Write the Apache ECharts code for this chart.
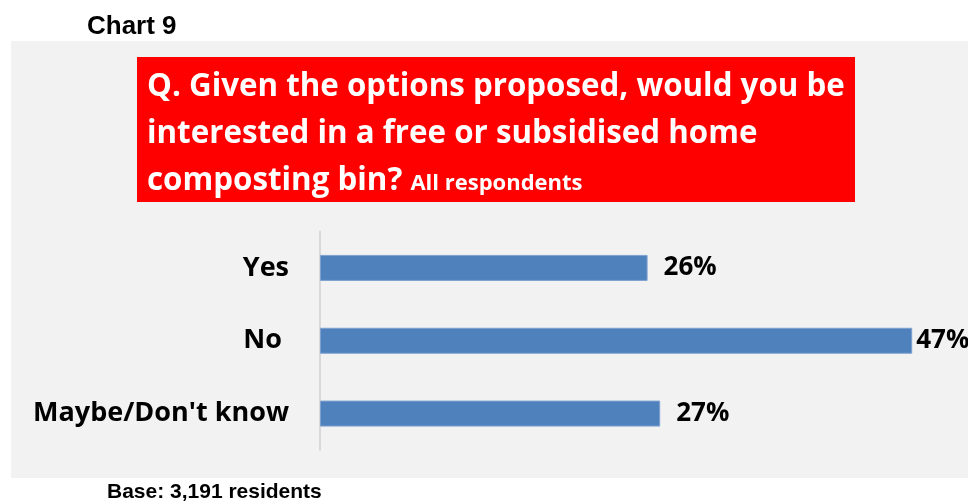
<!DOCTYPE html>
<html>
<head>
<meta charset="utf-8">
<script src="https://cdn.jsdelivr.net/npm/echarts@6/dist/echarts.min.js"></script>
<style>
  html, body { margin: 0; padding: 0; background: #ffffff; }
  #chart { width: 968px; height: 502px; }
</style>
</head>
<body>
<div id="chart"></div>
<script>
// Survey answers and their shares (%)
const categories = ['Yes', 'No ', "Maybe/Don't know"];
const shares = [26, 47, 27];
// Gap between each bar end and its value label
const labelGaps = [16, 4, 16];

const FONT = '"Open Sans", "Noto Sans", sans-serif';
const ARIAL = '"Liberation Sans", Arial, sans-serif';

const chart = echarts.init(document.getElementById('chart'), null, { renderer: 'canvas' });

const titleLine = (text, y) => ({
  type: 'text', z: 2, x: 147, y: y,
  style: { text: text, font: 'bold 31.3px ' + FONT, fill: '#ffffff', verticalAlign: 'middle' }
});

chart.setOption({
  backgroundColor: '#ffffff',
  animation: false,
  graphic: [
    { type: 'rect', z: 0, shape: { x: 11, y: 41, width: 957, height: 437 }, style: { fill: '#f2f2f2' } },
    { type: 'text', z: 1, x: 87, y: 27, style: { text: 'Chart 9', font: 'bold 26px ' + ARIAL, fill: '#000', verticalAlign: 'middle' } },
    { type: 'rect', z: 1, shape: { x: 137, y: 57, width: 718, height: 145 }, style: { fill: '#ff0000' } },
    titleLine('Q. Given the options proposed, would you be', 87),
    titleLine('interested in a free or subsidised home', 134),
    {
      type: 'text', z: 2, x: 147, y: 181,
      style: {
        text: '{q|composting bin? }{s|All respondents}',
        verticalAlign: 'middle',
        rich: {
          q: { font: 'bold 31.3px ' + FONT, fill: '#ffffff', height: 42, lineHeight: 42 },
          s: { font: 'bold 22px ' + FONT, fill: '#ffffff', height: 42, lineHeight: 42, padding: [6, 0, 0, 0] }
        }
      }
    },
    { type: 'text', z: 1, x: 107, y: 492, style: { text: 'Base: 3,191 residents', font: 'bold 21px ' + ARIAL, fill: '#000', verticalAlign: 'middle' } }
  ],
  grid: { left: 320, top: 231.5, width: 630, height: 218.5, containLabel: false },
  xAxis: { type: 'value', min: 0, max: 50, show: false },
  yAxis: {
    type: 'category',
    data: categories,
    inverse: true,
    axisLine: { show: true, lineStyle: { color: '#d9d9d9', width: 2 } },
    axisTick: { show: false },
    axisLabel: { margin: 31, color: '#000', fontFamily: FONT, fontWeight: 'bold', fontSize: 27 }
  },
  series: [{
    type: 'bar',
    barWidth: 26,
    itemStyle: { color: '#4f81bd', borderColor: '#7ea1cf', borderWidth: 1 },
    data: shares.map((v, i) => ({
      value: v,
      label: { distance: labelGaps[i] }
    })),
    label: {
      show: true,
      position: 'right',
      formatter: '{c}%',
      color: '#000',
      fontFamily: FONT,
      fontWeight: 'bold',
      fontSize: 26
    }
  }]
});
</script>
</body>
</html>
